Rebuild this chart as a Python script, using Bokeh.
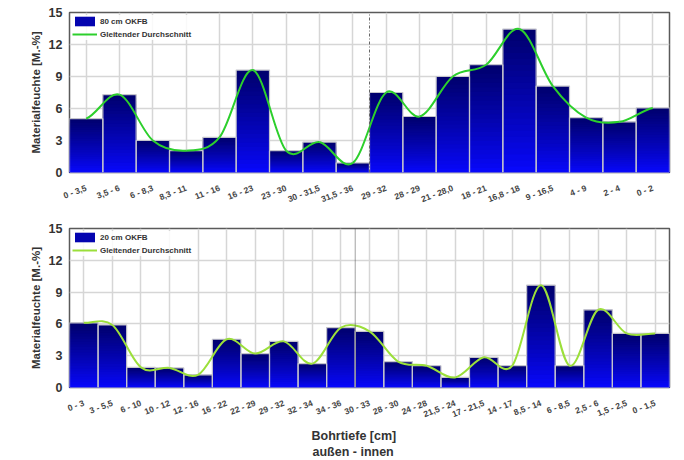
from bokeh.plotting import figure
from bokeh.models import (ColumnDataSource, Range1d, FixedTicker, Legend, LegendItem,
                          Title, FactorRange)
from bokeh.layouts import column
from bokeh.embed import file_html
from bokeh.resources import INLINE

# ---------------- data ----------------
top_cats = ["0 - 3,5", "3,5 - 6", "6 - 8,3", "8,3 - 11", "11 - 16", "16 - 23",
            "23 - 30", "30 - 31,5", "31,5 - 36", "29 - 32", "28 - 29", "21 - 28,0",
            "18 - 21", "16,8 - 18", "9 - 16,5", "4 - 9", "2 - 4", "0 - 2"]
top_vals = [5.05, 7.3, 3.0, 2.05, 3.3, 9.6, 2.05, 2.85, 0.9,
            7.5, 5.25, 9.0, 10.1, 13.45, 8.1, 5.15, 4.75, 6.05]
top_series = "80 cm OKFB"
top_split = "31,5 - 36"

bot_cats = ["0 - 3", "3 - 5,5", "6 - 10", "10 - 12", "12 - 16", "16 - 22", "22 - 29",
            "29 - 32", "32 - 34", "34 - 36", "30 - 33", "28 - 30", "24 - 28",
            "21,5 - 24", "17 - 21,5", "14 - 17", "8,5 - 14", "6 - 8,5", "2,5 - 6",
            "1,5 - 2,5", "0 - 1,5"]
bot_vals = [6.1, 5.9, 1.9, 1.85, 1.2, 4.55, 3.2, 4.35, 2.25, 5.65,
            5.3, 2.45, 2.05, 0.95, 2.85, 2.07, 9.65, 2.07, 7.33, 5.1, 5.1]
bot_series = "20 cm OKFB"
bot_split = "34 - 36"

avg_name = "Gleitender Durchschnitt"
y_ticks = [0, 3, 6, 9, 12, 15]
y_label = "Materialfeuchte [M.-%]"
x_title = "Bohrtiefe [cm]"
x_subtitle = "außen - innen"

FONT = "Liberation Sans"
N = 24  # nested rectangles used to emulate the vertical colour gradient of each bar


def shade(k):
    # k = 0 at the bottom of a bar, N-1 at its top
    t = ((k + 0.5) / N) ** 0.85
    b = round(255 + (108 - 255) * t)
    g = round(8 + (0 - 8) * t)
    return "#%02x%02x%02x" % (g, g, b)


def make_fig(cats, vals, series, line_color, split, height, mb_top, mb_bottom,
             mb_left, mb_right, dash, dash_color):
    p = figure(x_range=FactorRange(*cats), y_range=Range1d(y_ticks[0], y_ticks[-1]),
               width=684, height=height, output_backend="svg", toolbar_location=None,
               min_border_top=mb_top, min_border_bottom=mb_bottom,
               min_border_left=mb_left, min_border_right=mb_right)
    p.background_fill_color = "white"
    p.border_fill_color = "white"

    # gradient bars: nested rectangles from 0 up to a fraction of each value,
    # drawn from the tallest (darkest) to the shortest (brightest)
    xs, tops, colors = [], [], []
    for k in range(N - 1, -1, -1):
        for c, v in zip(cats, vals):
            xs.append(c)
            tops.append(v * (k + 1) / N)
            colors.append(shade(k))
    src = ColumnDataSource(dict(x=xs, top=tops, color=colors))
    slices = p.vbar(x="x", bottom=0, top="top", width=1.0, fill_color="color",
                    line_color=None, source=src)
    p.vbar(x=cats, top=vals, width=1.0, fill_alpha=0, line_color="#c4c4cc", line_width=1.2)

    # smoothed line (Catmull-Rom as cubic Bezier segments)
    n = len(vals)
    x0, y0, x1, y1, cx0, cy0, cx1, cy1 = [], [], [], [], [], [], [], []
    for i in range(n - 1):
        vp = vals[max(i - 1, 0)]
        vn = vals[min(i + 2, n - 1)]
        x0.append(cats[i]); y0.append(vals[i])
        x1.append(cats[i + 1]); y1.append(vals[i + 1])
        cx0.append((cats[i], 1 / 3)); cy0.append(vals[i] + (vals[i + 1] - vp) / 6)
        cx1.append((cats[i + 1], -1 / 3)); cy1.append(vals[i + 1] - (vn - vals[i]) / 6)
    curve = p.bezier(x0=x0, y0=y0, x1=x1, y1=y1, cx0=cx0, cy0=cy0, cx1=cx1, cy1=cy1,
                     line_color=line_color, line_width=2)

    # separator line
    p.segment(x0=[(split, 0.5)], y0=[y_ticks[0]], x1=[(split, 0.5)], y1=[y_ticks[-1]],
              line_color=dash_color, line_width=1, line_dash=dash)

    # axes
    p.yaxis.ticker = FixedTicker(ticks=y_ticks)
    p.yaxis.axis_label = y_label
    p.yaxis.axis_label_text_font = FONT
    p.yaxis.axis_label_text_font_size = "11.5px"
    p.yaxis.axis_label_text_font_style = "bold"
    p.yaxis.axis_label_text_color = "#333333"
    p.yaxis.axis_label_standoff = 4
    p.yaxis.major_label_text_font = FONT
    p.yaxis.major_label_text_font_size = "12.5px"
    p.yaxis.major_label_text_font_style = "bold"
    p.yaxis.major_label_text_color = "#333333"
    p.yaxis.major_label_standoff = 7

    p.xaxis.major_label_orientation = 0.36
    p.xaxis.major_label_text_font = FONT
    p.xaxis.major_label_text_font_size = "8.5px"
    p.xaxis.major_label_text_font_style = "bold"
    p.xaxis.major_label_text_color = "#444444"
    p.xaxis.major_label_standoff = 15

    for ax in (p.xaxis, p.yaxis):
        ax.axis_line_color = None
        ax.major_tick_line_color = None
        ax.minor_tick_line_color = None
        ax.major_tick_out = 0
        ax.major_tick_in = 0
        ax.minor_tick_out = 0
        ax.minor_tick_in = 0

    p.xgrid.grid_line_color = "#d6d6d6"
    p.ygrid.grid_line_color = "#d6d6d6"
    p.xgrid.grid_line_width = 1.5
    p.ygrid.grid_line_width = 1.5
    p.outline_line_color = "#5a5a5a"
    p.outline_line_width = 1.5

    legend = Legend(items=[LegendItem(label=series, renderers=[slices], index=(N // 2) * len(cats)),
                           LegendItem(label=avg_name, renderers=[curve])],
                    location="top_left")
    legend.border_line_color = None
    legend.background_fill_alpha = 0.85
    legend.glyph_width = 25
    legend.glyph_height = 12
    legend.label_height = 12
    legend.spacing = 1
    legend.padding = 0
    legend.margin = 3
    legend.label_standoff = 3
    legend.label_text_font = FONT
    legend.label_text_font_size = "8px"
    legend.label_text_font_style = "bold"
    legend.label_text_color = "#333333"
    p.add_layout(legend)
    return p


top = make_fig(top_cats, top_vals, top_series, "#2ccf2c", top_split,
               height=216, mb_top=12, mb_bottom=44, mb_left=69, mb_right=13,
               dash="3 2 1 2", dash_color="#666666")
bottom = make_fig(bot_cats, bot_vals, bot_series, "#9bdf3a", bot_split,
                  height=244, mb_top=12, mb_bottom=73, mb_left=68, mb_right=15,
                  dash="1 1", dash_color="#444444")

t1 = Title(text=x_title, align="left", offset=242, text_font=FONT, text_font_size="12.5px",
           text_font_style="bold", text_color="#333333", standoff=0)
t2 = Title(text=x_subtitle, align="left", offset=243, text_font=FONT, text_font_size="12.5px",
           text_font_style="bold", text_color="#333333", standoff=0)
bottom.add_layout(t1, "below")
bottom.add_layout(t2, "below")

layout = column(top, bottom)
open("out.html", "w").write(file_html(layout, INLINE))
